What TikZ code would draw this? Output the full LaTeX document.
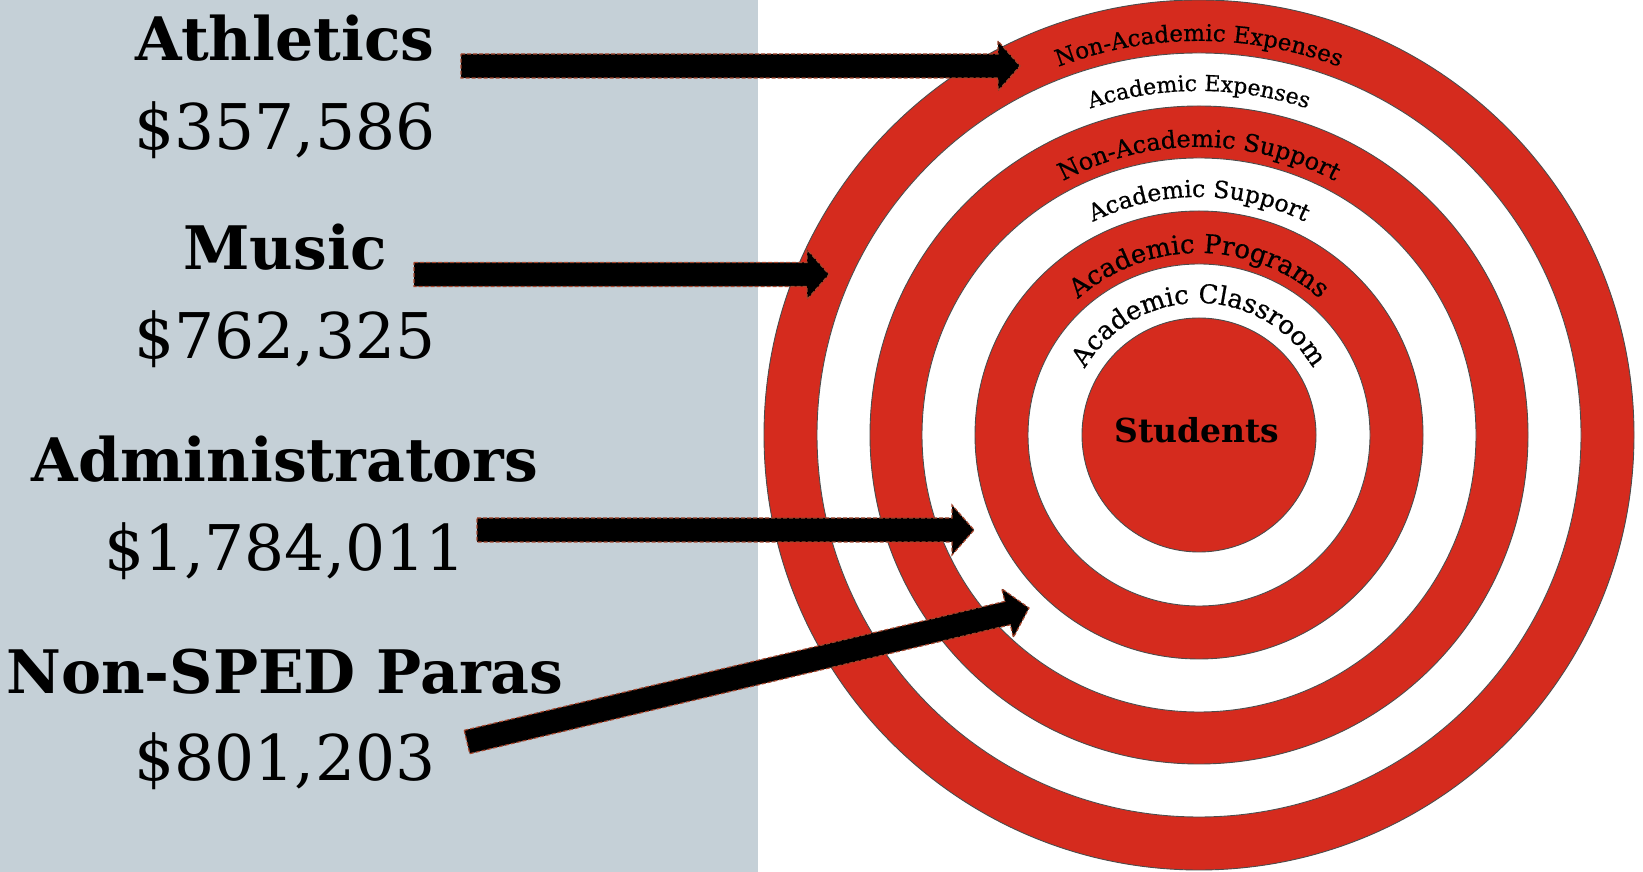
\documentclass[tikz,border=0pt]{standalone}
\usepackage{fontspec}
\setmainfont{DejaVu Serif}
\newfontfamily\ringfont{DejaVu Serif}[FakeBold=0.6]
\usepackage{tikz}
\usetikzlibrary{calc,decorations.text}
\definecolor{panelgrey}{RGB}{197,208,215}
\definecolor{ringred}{RGB}{213,43,30}
\definecolor{arrowedge}{RGB}{165,70,45}

\begin{document}
\begin{tikzpicture}[x=1pt,y=1pt]
	\tikzset{ringline/.style={draw=black!70,line width=0.9pt},
		ringtext/.style 2 args={decorate,decoration={text along path,text align=center,
			text={|\ringfont\fontsize{#1}{#1}\selectfont|#2}}},
		itemname/.style={anchor=base,inner sep=0pt,font=\bfseries\fontsize{60}{60}\selectfont},
		itemcost/.style={anchor=base,inner sep=0pt,font=\fontsize{63}{63}\selectfont},
		bigarrow/.style={fill=black,draw=arrowedge,line width=1.2pt,dash pattern=on 4pt off 2pt}}
	\def\shaft{12pt} \def\head{25pt} \def\headlen{22pt}
	\useasboundingbox (0,0) rectangle (1643,872);
	\fill[panelgrey] (0,0) rectangle (758,872);
	% target
	\coordinate (O) at (1199,437);
	\foreach \r/\c in {435/ringred,382/white,329/ringred,277/white,224/ringred,171/white,117/ringred}
		\draw[ringline,fill=\c] (O) circle (\r);
	\node[anchor=base,inner sep=0pt,font=\bfseries\fontsize{33}{33}\selectfont] (students) at (1197,429) {Students};
	\path[ringtext={23}{Non-Academic Expenses}] ($(O)+(170:394)$) arc[start angle=170,end angle=10,radius=394];
	\path[ringtext={22}{Academic Expenses}] ($(O)+(170:344)$) arc[start angle=170,end angle=10,radius=344];
	\path[ringtext={24}{Non-Academic Support}] ($(O)+(170:288)$) arc[start angle=170,end angle=10,radius=288];
	\path[ringtext={23.5}{Academic Support}] ($(O)+(170:238)$) arc[start angle=170,end angle=10,radius=238];
	\path[ringtext={26}{Academic Programs}] ($(O)+(170:182)$) arc[start angle=170,end angle=10,radius=182];
	\path[ringtext={26}{Academic Classroom}] ($(O)+(170:132)$) arc[start angle=170,end angle=10,radius=132];
	% labels
	\node[itemname] (athl) at (285,811) {Athletics};
	\node[itemcost] (athlcost) at (285,722) {\$357,586};
	\node[itemname] (music) at (285,602) {Music};
	\node[itemcost] (musiccost) at (285,513) {\$762,325};
	\node[itemname] (admin) at (285,390) {Administrators};
	\node[itemcost] (admincost) at (285,301) {\$1,784,011};
	\node[itemname] (paras) at (285,178) {Non-SPED Paras};
	\node[itemcost] (parascost) at (285,91) {\$801,203};
	% arrows: -s is the tail, -t the tip
	\coordinate (athl-s) at (461,806); \coordinate (athl-t) at (1020,806);
	\coordinate (music-s) at (414,597.5); \coordinate (music-t) at (829,597.5);
	\coordinate (admin-s) at (477,342); \coordinate (admin-t) at (974,342);
	\coordinate (paras-s) at (467,130); \coordinate (paras-t) at (1029,264);
	\foreach \p in {athl,music,admin,paras}{
		\coordinate (hb) at ($(\p-t)!\headlen!(\p-s)$);
		\draw[bigarrow] ($(\p-s)!\shaft!90:(\p-t)$) -- ($(hb)!\shaft!90:(\p-t)$)
			-- ($(hb)!\head!90:(\p-t)$) -- (\p-t) -- ($(hb)!\head!-90:(\p-t)$)
			-- ($(hb)!\shaft!-90:(\p-t)$) -- ($(\p-s)!\shaft!-90:(\p-t)$) -- cycle;
	}
\end{tikzpicture}
\end{document}
